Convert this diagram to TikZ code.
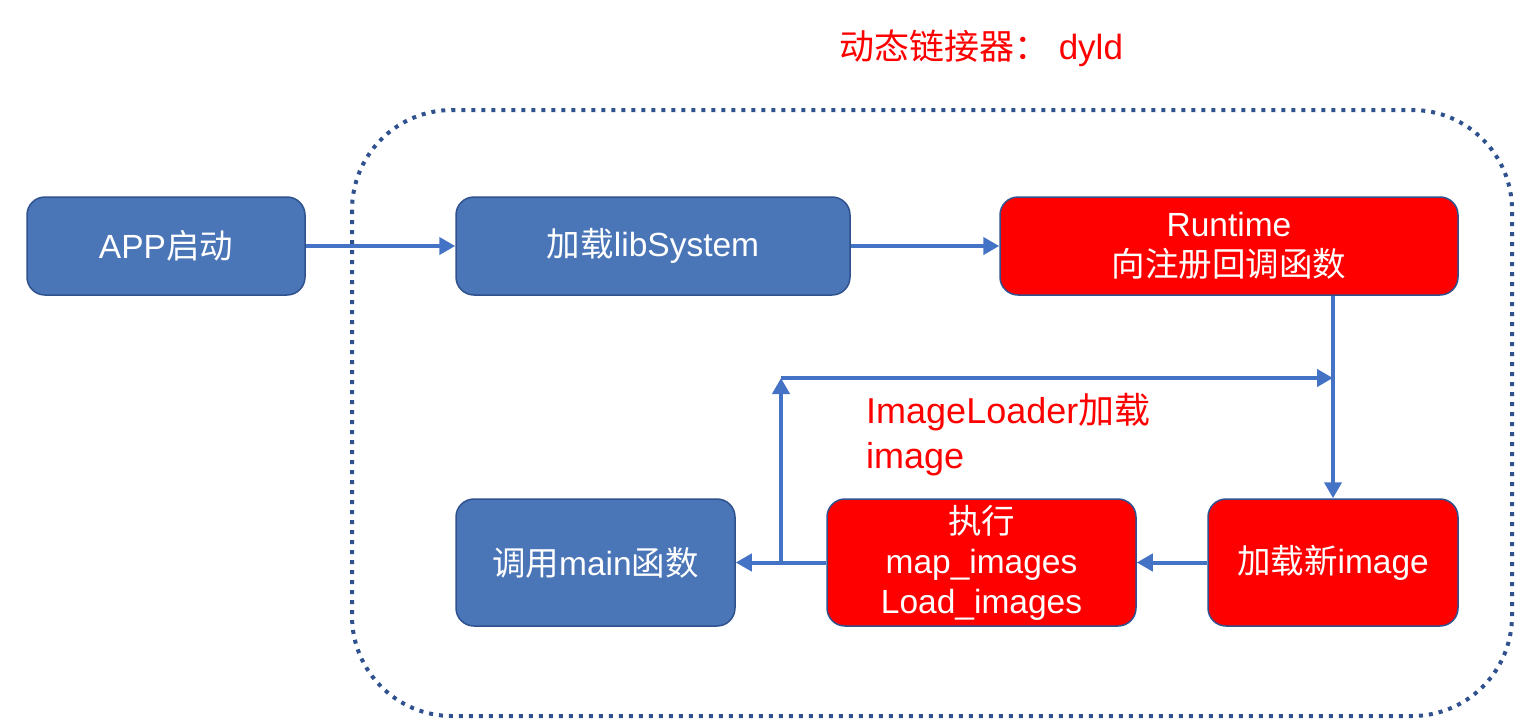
\documentclass[tikz,border=0pt]{standalone}
\usepackage{fontspec}
\setmainfont{Liberation Sans}
\newfontfamily\cjk{Noto Sans CJK SC}
\usepackage{xcolor}
\usetikzlibrary{arrows.meta}

\definecolor{boxblue}{RGB}{74,117,183}
\definecolor{edgeblue}{RGB}{47,82,143}
\definecolor{flowblue}{RGB}{68,114,196}
\definecolor{boxred}{RGB}{254,0,0}

\tikzset{
  bluebox/.style={draw=edgeblue, line width=1.5pt, fill=boxblue, rounded corners=18pt,
    text=white, align=center, font=\fontsize{33.5}{40}\selectfont, inner sep=0pt},
  redbox/.style={bluebox, fill=boxred},
  flow/.style={draw=flowblue, line width=4pt, -{Triangle[length=16pt,width=17pt]}},
  dotborder/.style={draw=edgeblue, line width=4pt, dash pattern=on 4pt off 6pt}
}

\begin{document}
\begin{tikzpicture}[x=1pt, y=-1pt]
    \useasboundingbox (0,0) rectangle (1530,724);

    % dyld frame
    \draw[dotborder, rounded corners=100pt] (352,110) rectangle (1512,716);
    \node[text=boxred, font=\fontsize{35}{42}\selectfont] (title) at (981,48) {{\cjk 动态链接器：}\ dyld};

    % Top row
    \node[bluebox, minimum width=278pt, minimum height=98pt] (app) at (166,246) {APP{\cjk 启动}};
    \node[bluebox, minimum width=394pt, minimum height=98pt] (libsys) at (653,246) {{\cjk 加载}libSystem};
    \node[redbox, minimum width=458pt, minimum height=98pt] (runtime) at (1229,246) {Runtime\\{\cjk 向注册回调函数}};

    % Bottom row
    \node[bluebox, minimum width=279pt, minimum height=127pt] (mainfn) at (595.5,562.5) {{\cjk 调用}main{\cjk 函数}};
    \node[redbox, minimum width=309pt, minimum height=127pt] (exec) at (981.5,562.5) {{\cjk 执行}\\map\_images\\Load\_images};
    \node[redbox, minimum width=250pt, minimum height=127pt] (newimg) at (1333,562.5) {{\cjk 加载新}image};

    % Loop label
    \node[anchor=west, align=left, text=boxred, inner sep=0pt, font=\fontsize{36}{45}\selectfont] (loader) at (866,435) {ImageLoader{\cjk 加载}\\image};

    % Arrows
    \draw[flow] (app) -- (libsys);
    \draw[flow] (libsys) -- (runtime);
    \draw[flow] (newimg.north |- runtime.south) -- (newimg.north);
    \draw[flow] (newimg) -- (exec);
    \draw[flow] (exec) -- (mainfn);

    \coordinate (tap) at (781,563);
    \coordinate (turn) at (781,378);
    \draw[flow] (tap) -- (turn);
    \draw[flow] (turn) -- (turn -| newimg.north);
\end{tikzpicture}
\end{document}
